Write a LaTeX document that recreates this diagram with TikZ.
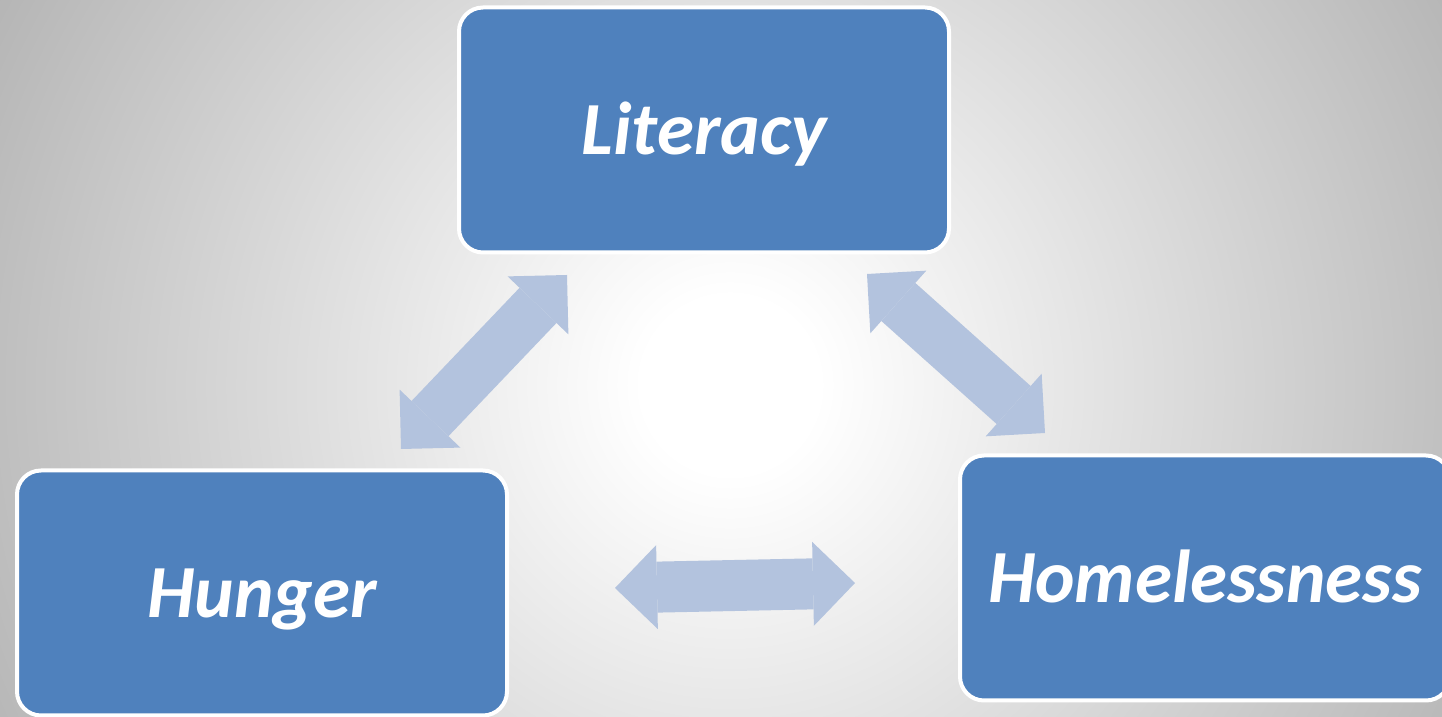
\documentclass[tikz,border=0pt]{standalone}
\usepackage{fontspec}
\setmainfont{Carlito}
\usetikzlibrary{arrows.meta}
\definecolor{boxblue}{HTML}{4F81BD}
\definecolor{linkblue}{HTML}{B3C3DE}
\definecolor{bgedge}{HTML}{B0B0B0}
\pgfdeclareradialshading{bgglow}{\pgfpoint{0bp}{0bp}}{color(0bp)=(white); color(2.5bp)=(white); color(25bp)=(bgedge); color(50bp)=(bgedge)}
\begin{document}
\begin{tikzpicture}[x=0.5pt,y=0.5pt,
  topic/.style={draw=white,line width=2pt,fill=boxblue,rounded corners=12pt,
    minimum width=245pt,minimum height=122.5pt,inner sep=0pt,text=white,
    font=\fontsize{37.5}{44}\selectfont\bfseries\itshape,text height=24.5pt,text depth=0pt},
  link/.style={linkblue,line width=25.5pt,
    {Triangle[width=42pt,length=21pt,line width=0pt]}-{Triangle[width=42pt,length=21pt,line width=0pt]}}]
  \useasboundingbox (0,0) rectangle (1442,717);
  \clip (0,0) rectangle (1442,717);
  \shade[shading=bgglow] (730,332) circle (440pt);

  \node[topic] (literacy) at (704,587) {Literacy};
  \node[topic] (hunger) at (262,124) {Hunger};
  \node[topic] (homeless) at (1205,139) {Homelessness};

  \coordinate (hungerend) at (401,268);
  \coordinate (litleft) at (567,442);
  \coordinate (litright) at (867,443);
  \coordinate (homeup) at (1045,284);
  \coordinate (hungerright) at (615,129);
  \coordinate (homeleft) at (855,134);

  \draw[link] (hungerend) -- (litleft);
  \draw[link] (litright) -- (homeup);
  \draw[link] (hungerright) -- (homeleft);
\end{tikzpicture}
\end{document}
